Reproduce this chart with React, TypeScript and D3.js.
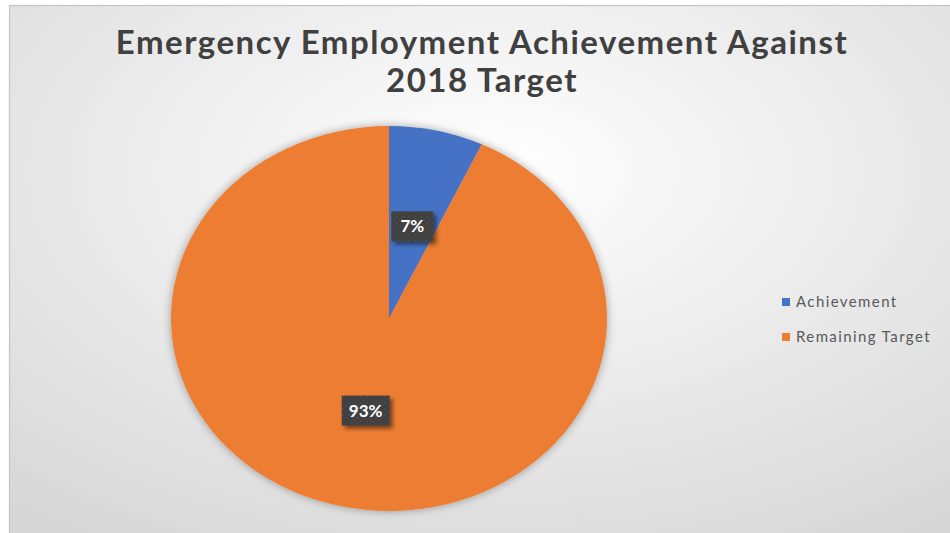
import React from "react";
import * as d3 from "d3";

const categories = ["Achievement", "Remaining Target"];
const values = [7, 93];
const labels = ["7%", "93%"];
const colors = ["#4472C4", "#ED7D31"];
const titleLines = ["Emergency Employment Achievement Against", "2018 Target"];

const W = 950;
const H = 533;
const cx = 389;
const cy = 318.5;
const rx = 218;
const ry = 192.5;

export default function App() {
  const pie = d3.pie<number>().sort(null).value((d) => d);
  const arcs = pie(values);
  const arcGen = d3.arc<d3.PieArcDatum<number>>().innerRadius(0).outerRadius(rx);
  const labelArc = d3.arc<d3.PieArcDatum<number>>().innerRadius(rx * 0.98).outerRadius(rx * 0.98);
  const sy = ry / rx;
  const boxW = [42, 48];

  return (
    <div style={{ position: "fixed", left: 0, top: 0 }}>
      <svg width={W} height={H} style={{ display: "block" }}>
        <defs>
          <radialGradient id="bg" cx="50%" cy="30%" r="80%" fx="50%" fy="30%">
            <stop offset="0%" stopColor="#ffffff" />
            <stop offset="100%" stopColor="#d6d6d6" />
          </radialGradient>
          <filter id="pieShadow" x="-20%" y="-20%" width="140%" height="140%">
            <feGaussianBlur in="SourceAlpha" stdDeviation="5" />
            <feOffset dx="0" dy="0" result="b" />
            <feComponentTransfer>
              <feFuncA type="linear" slope="0.35" />
            </feComponentTransfer>
            <feMerge>
              <feMergeNode />
              <feMergeNode in="SourceGraphic" />
            </feMerge>
          </filter>
          <filter id="boxShadow" x="-30%" y="-30%" width="170%" height="170%">
            <feGaussianBlur in="SourceAlpha" stdDeviation="2" />
            <feOffset dx="3" dy="3" />
            <feComponentTransfer>
              <feFuncA type="linear" slope="0.5" />
            </feComponentTransfer>
            <feMerge>
              <feMergeNode />
              <feMergeNode in="SourceGraphic" />
            </feMerge>
          </filter>
          <pattern id="dots" width="6" height="6" patternUnits="userSpaceOnUse">
            <rect width="6" height="6" fill="#3f3f3f" />
            <rect x="0" y="0" width="2" height="2" fill="#4a4a4a" />
            <rect x="3" y="3" width="2" height="2" fill="#464646" />
          </pattern>
        </defs>
        <rect x={0} y={0} width={W} height={H} fill="#ffffff" />
        <rect x={9.5} y={5.5} width={W + 20} height={H + 20} fill="url(#bg)" stroke="#c4c4c4" strokeWidth={1.2} />

        {titleLines.map((t, i) => (
          <text
            key={i}
            x={482}
            y={54 + i * 38}
            textAnchor="middle"
            fontFamily="Lato, 'Open Sans', sans-serif"
            fontWeight="bold"
            fontSize={33}
            letterSpacing={1.5}
            fill="#404040"
          >
            {t}
          </text>
        ))}

        <g transform={`translate(${cx},${cy}) scale(1,${sy})`} filter="url(#pieShadow)">
          {arcs.map((a, i) => (
            <path key={i} d={arcGen(a) || ""} fill={colors[i]} />
          ))}
        </g>

        {arcs.map((a, i) => {
          const [lx, ly] = labelArc.centroid(a);
          const x = cx + lx * 0.5;
          const y = cy + ly * 0.5 * sy;
          const bw = boxW[i];
          const bh = 30;
          return (
            <g key={i}>
              <rect x={x - bw / 2} y={y - bh / 2} width={bw} height={bh} fill="url(#dots)" filter="url(#boxShadow)" />
              <text
                x={x}
                y={y + 6}
                textAnchor="middle"
                fontFamily="Lato, 'Open Sans', sans-serif"
                fontWeight="bold"
                fontSize={17}
                fill="#ffffff"
              >
                {labels[i]}
              </text>
            </g>
          );
        })}

        {categories.map((c, i) => (
          <g key={i} transform={`translate(782,${298 + i * 35})`}>
            <rect x={0} y={0} width={8} height={8} fill={colors[i]} />
            <text
              x={14}
              y={8.5}
              fontFamily="Lato, 'Open Sans', sans-serif"
              fontSize={15}
              letterSpacing={1.4}
              fill="#595959"
            >
              {c}
            </text>
          </g>
        ))}
      </svg>
    </div>
  );
}
